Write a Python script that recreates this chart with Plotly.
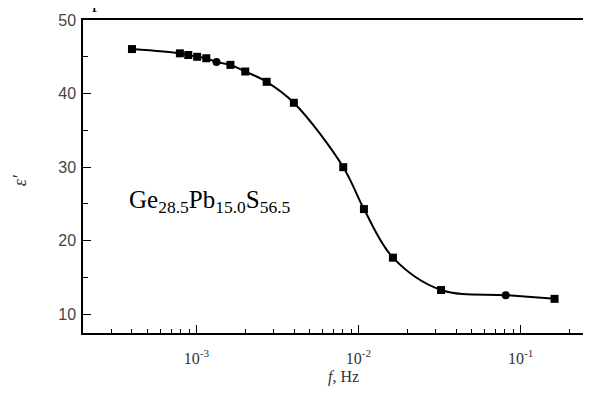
import plotly.graph_objects as go

# data
freq = [4.0e-4, 7.9e-4, 8.9e-4, 1.01e-3, 1.15e-3, 1.33e-3, 1.62e-3, 2.0e-3, 2.71e-3,
        3.99e-3, 8.05e-3, 1.08e-2, 1.63e-2, 3.23e-2, 8.1e-2, 0.162]
eps = [46.05, 45.47, 45.24, 45.0, 44.8, 44.3, 43.9, 43.0, 41.6,
       38.75, 30.0, 24.3, 17.7, 13.3, 12.6, 12.1]
symbols = ["square"] * 5 + ["circle"] + ["square"] * 8 + ["circle", "square"]

x_tickvals = [1e-3, 1e-2, 1e-1]
x_ticktext = ["10<sup>-3</sup>", "10<sup>-2</sup>", "10<sup>-1</sup>"]
x_minor = [3e-4, 4e-4, 5e-4, 6e-4, 7e-4, 8e-4, 9e-4,
           2e-3, 3e-3, 4e-3, 5e-3, 6e-3, 7e-3, 8e-3, 9e-3,
           2e-2, 3e-2, 4e-2, 5e-2, 6e-2, 7e-2, 8e-2, 9e-2, 2e-1]
y_tickvals = [10, 20, 30, 40, 50]
y_minor = [15, 25, 35, 45]

SERIF = "Liberation Serif, Times New Roman, serif"
SANS = "Liberation Sans, Arial, sans-serif"

fig = go.Figure()
fig.add_trace(go.Scatter(
    x=freq, y=eps, mode="lines+markers",
    line=dict(color="black", width=2, shape="spline", smoothing=1.0),
    marker=dict(symbol=symbols, size=8, color="black"),
    showlegend=False,
))

# the page body has an 8 px margin, so the figure sits at (8, 8)
fig.update_layout(
    width=575, height=379,
    margin=dict(l=75, r=0, t=12, b=54),
    paper_bgcolor="white", plot_bgcolor="white",
    font=dict(family=SERIF, size=14, color="#333"),
    xaxis=dict(
        type="log", range=[-3.70, -0.615],
        showgrid=False, zeroline=False,
        showline=True, linecolor="black", linewidth=1.5, mirror=True,
        ticks="inside", ticklen=8, tickwidth=1, tickcolor="black",
        tickvals=x_tickvals, ticktext=x_ticktext,
        tickfont=dict(family=SERIF, size=16, color="#333"),
        ticklabelstandoff=10,
        minor=dict(tickvals=x_minor, ticks="inside", ticklen=4, tickwidth=1,
                   tickcolor="black", showgrid=False),
    ),
    yaxis=dict(
        range=[7.46, 50],
        showgrid=False, zeroline=False,
        showline=True, linecolor="black", linewidth=1.5, mirror=False,
        ticks="inside", ticklen=8, tickwidth=1, tickcolor="black",
        tickvals=y_tickvals,
        tickfont=dict(family=SANS, size=16, color="#444"),
        ticklabelstandoff=2,
        minor=dict(tickvals=y_minor, ticks="inside", ticklen=5, tickwidth=1,
                   tickcolor="black", showgrid=False),
    ),
    annotations=[
        dict(text="<i>f</i>, Hz", xref="paper", yref="paper", x=0.52, y=0,
             yshift=-44, xanchor="center", yanchor="middle", showarrow=False,
             font=dict(family=SERIF, size=16, color="#333")),
        dict(text="<i>ε′</i>", xref="paper", yref="paper", x=0, y=0.488,
             xshift=-63, xanchor="center", yanchor="middle", showarrow=False,
             textangle=-90, font=dict(family=SERIF, size=18, color="#333")),
        dict(text="Ge<sub>28.5</sub>Pb<sub>15.0</sub>S<sub>56.5</sub>",
             xref="paper", yref="paper", x=0.0875, y=0.42,
             xanchor="left", yanchor="middle", showarrow=False,
             font=dict(family=SERIF, size=25, color="black")),
        dict(text="p", xref="paper", yref="paper", x=0.028, y=1,
             yshift=6, xanchor="center", yanchor="bottom", showarrow=False,
             font=dict(family=SERIF, size=20, color="black")),
    ],
)

fig.write_html("out.html")
